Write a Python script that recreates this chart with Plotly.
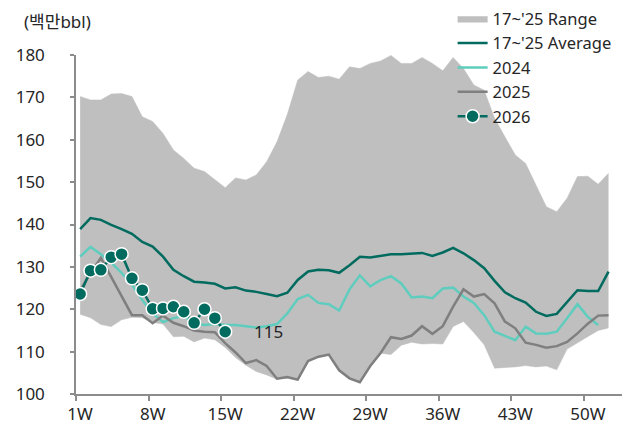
import plotly.graph_objects as go

weeks = list(range(1, 53))
tick_weeks = [1, 8, 15, 22, 29, 36, 43, 50]
tick_labels = [f"{w}W" for w in tick_weeks]

range_high = [170.2, 169.4, 169.4, 170.8, 170.9, 170.2, 165.4, 164.3, 161.5, 157.6,
              155.6, 153.3, 152.5, 150.5, 148.7, 151.0, 150.5, 151.7, 154.8, 159.5,
              166.0, 174.1, 176.1, 174.7, 175.0, 174.3, 177.2, 176.8, 178.0, 178.6,
              179.9, 178.0, 178.0, 179.4, 178.0, 176.3, 179.4, 176.8, 172.9, 171.7,
              165.1, 160.7, 156.4, 154.4, 149.3, 144.2, 143.0, 146.2, 151.3, 151.4,
              149.5, 152.1]
range_low = [118.8, 118.0, 116.4, 115.9, 117.5, 118.1, 118.0, 116.9, 116.5, 113.5,
             113.6, 112.3, 113.2, 112.8, 111.0, 108.6, 106.8, 105.3, 104.5, 103.5,
             103.7, 103.2, 107.5, 108.6, 109.1, 105.5, 103.6, 102.7, 106.4, 109.6,
             109.3, 111.5, 112.2, 111.8, 111.9, 111.8, 115.9, 117.1, 114.5, 111.6,
             106.1, 106.2, 106.4, 106.7, 106.4, 106.6, 105.7, 110.6, 112.0, 113.5,
             115.0, 115.6]
average = [138.9, 141.5, 141.1, 139.9, 138.9, 137.8, 135.9, 134.8, 132.4, 129.3,
           127.8, 126.5, 126.3, 126.0, 124.9, 125.2, 124.4, 124.1, 123.6, 123.1,
           123.9, 126.9, 128.9, 129.3, 129.2, 128.6, 130.4, 132.4, 132.2, 132.6,
           133.0, 133.0, 133.2, 133.3, 132.6, 133.4, 134.5, 133.2, 131.6, 129.7,
           126.7, 124.0, 122.6, 121.6, 119.4, 118.4, 118.9, 121.8, 124.5, 124.3,
           124.3, 128.9]
y2024 = [132.4, 134.7, 133.0, 131.0, 128.6, 125.8, 122.2, 119.0, 117.0, 117.9,
         118.4, 116.7, 116.3, 116.5, 116.3, 116.3, 116.0, 115.7, 116.0, 116.5,
         119.0, 122.4, 123.4, 121.5, 121.2, 119.7, 124.7, 128.0, 125.4, 126.9,
         127.8, 126.1, 122.8, 123.0, 122.6, 124.9, 125.1, 123.0, 121.5, 118.6,
         114.7, 113.7, 112.7, 115.9, 114.3, 114.2, 114.7, 117.9, 121.2, 118.2,
         116.3]
y2025 = [124.5, 128.5, 132.1, 127.6, 123.2, 118.6, 118.6, 116.7, 118.5, 116.8,
         116.0, 115.0, 114.7, 114.6, 112.0, 109.8, 107.3, 108.0, 106.6, 103.6,
         104.0, 103.4, 107.8, 108.8, 109.3, 105.6, 103.7, 102.8, 106.6, 109.7,
         113.4, 113.0, 113.8, 116.0, 114.2, 116.0, 120.6, 124.7, 123.0, 123.6,
         121.4, 117.1, 115.5, 112.1, 111.6, 110.9, 111.3, 112.3, 114.3, 116.6,
         118.5, 118.6]
y2026 = [123.6, 129.1, 129.3, 132.3, 133.0, 127.3, 124.5, 120.1, 120.2, 120.6,
         119.4, 116.8, 120.0, 117.9, 114.7]

C_RANGE = "#BFBFBF"
C_AVG = "#006B5E"
C_2024 = "#5FCDBE"
C_2025 = "#7F7F7F"
C_2026 = "#006B5E"
AXIS = "#8C8C8C"
TXT = "#262626"
FONT = "Noto Sans, Noto Sans CJK KR, sans-serif"

fig = go.Figure()
fig.add_trace(go.Scatter(x=weeks, y=range_low, mode="lines", line=dict(width=0.5, color=C_RANGE),
                         showlegend=False, hoverinfo="skip"))
fig.add_trace(go.Scatter(x=weeks, y=range_high, mode="lines", line=dict(width=0.5, color=C_RANGE),
                         fill="tonexty", fillcolor=C_RANGE, name="17~'25 Range"))
fig.add_trace(go.Scatter(x=weeks, y=average, mode="lines", line=dict(width=2.5, color=C_AVG),
                         name="17~'25 Average"))
fig.add_trace(go.Scatter(x=weeks[:len(y2024)], y=y2024, mode="lines", line=dict(width=2.5, color=C_2024),
                         name="2024"))
fig.add_trace(go.Scatter(x=weeks[:len(y2025)], y=y2025, mode="lines", line=dict(width=2.5, color=C_2025),
                         name="2025"))
fig.add_trace(go.Scatter(x=weeks[:len(y2026)], y=y2026, mode="lines+markers",
                         line=dict(width=2.5, color=C_2026),
                         marker=dict(size=13, color=C_2026, line=dict(width=1.5, color="white")),
                         name="2026"))

fig.add_annotation(x=len(y2026), y=y2026[-1], xref="x", yref="y", text=f"{round(y2026[-1])}",
                   showarrow=False, xanchor="left", yanchor="middle", xshift=27,
                   font=dict(size=17, color=TXT, family=FONT))
fig.add_annotation(x=0, y=1, xref="paper", yref="paper", text="(백만bbl)", showarrow=False,
                   xanchor="left", yanchor="middle", xshift=-54, yshift=34,
                   font=dict(size=17, color=TXT, family=FONT))

fig.update_layout(
    width=642, height=425,
    margin=dict(l=76, r=20, t=55, b=31, autoexpand=False),
    paper_bgcolor="white", plot_bgcolor="white",
    font=dict(family=FONT, size=17, color=TXT),
    legend=dict(xref="container", yref="container", x=0.705, y=0.997, xanchor="left", yanchor="top",
                bgcolor="rgba(0,0,0,0)", traceorder="normal",
                font=dict(size=16.5, color=TXT, family=FONT), tracegroupgap=0),
    showlegend=True,
)
fig.update_xaxes(range=[0.6, 53.3], tickvals=tick_weeks, ticktext=tick_labels, ticks="",
                 showline=True, linecolor=AXIS, linewidth=1.5, showgrid=False, zeroline=False,
                 minor=dict(tick0=0.6, dtick=7, ticks="outside", ticklen=5, tickcolor=AXIS, tickwidth=1.5),
                 ticklabelstandoff=4, automargin=False, tickfont=dict(size=17, color=TXT))
fig.update_yaxes(range=[100, 180], dtick=10, ticks="outside", ticklen=4, tickcolor=AXIS, tickwidth=1.5,
                 showline=True, linecolor=AXIS, linewidth=1.5, showgrid=False, zeroline=False,
                 ticklabelstandoff=22, automargin=False, tickfont=dict(size=17, color=TXT))

fig.write_html("out.html", config={"displayModeBar": False},
               post_script="document.body.style.margin='0';")
